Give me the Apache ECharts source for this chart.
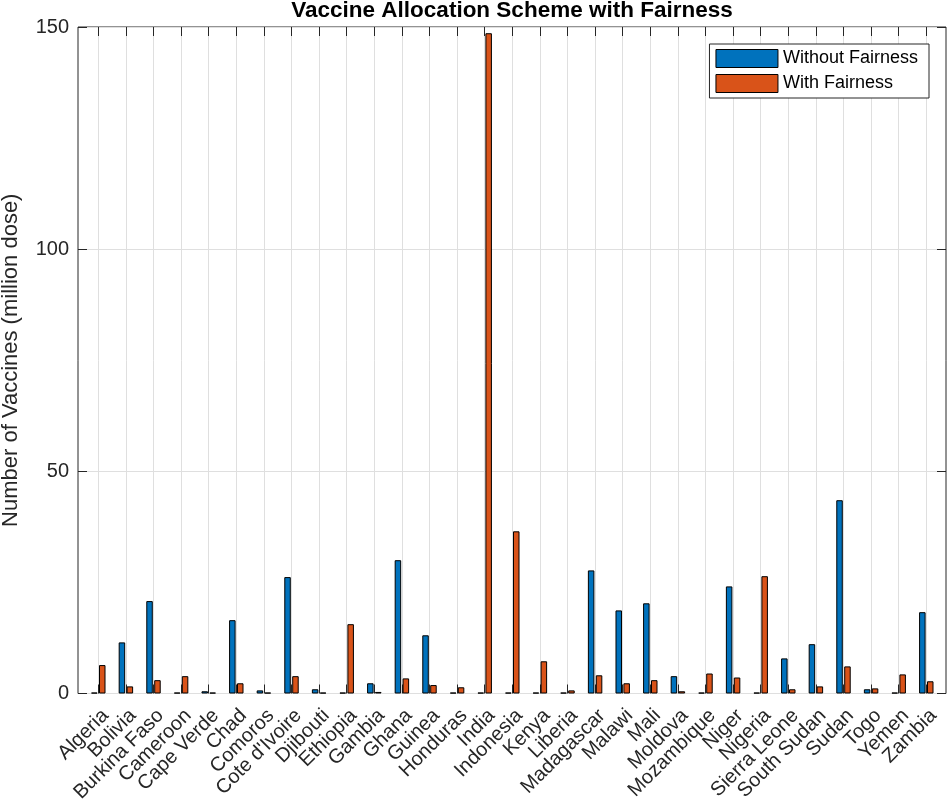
<!DOCTYPE html>
<html>
<head>
<meta charset="utf-8">
<script src="https://cdn.jsdelivr.net/npm/echarts@6/dist/echarts.min.js"></script>
<style>
html, body { margin: 0; padding: 0; background: #fff; }
#chart { width: 949px; height: 802px; }
</style>
</head>
<body>
<div id="chart"></div>
<script>
// data
var countries = ['Algeria', 'Bolivia', 'Burkina Faso', 'Cameroon', 'Cape Verde', 'Chad', 'Comoros',
	"Cote d'Ivoire", 'Djibouti', 'Ethiopia', 'Gambia', 'Ghana', 'Guinea', 'Honduras', 'India',
	'Indonesia', 'Kenya', 'Liberia', 'Madagascar', 'Malawi', 'Mali', 'Moldova', 'Mozambique',
	'Niger', 'Nigeria', 'Sierra Leone', 'South Sudan', 'Sudan', 'Togo', 'Yemen', 'Zambia'];
var withoutFairness = [0.2, 11.5, 20.8, 0.2, 0.5, 16.5, 0.7, 26.2, 0.95, 0.2, 2.3, 30.0, 13.1, 0.2, 0.2,
	0.2, 0.2, 0.2, 27.7, 18.7, 20.3, 3.9, 0.2, 24.1, 0.2, 7.9, 11.1, 43.5, 0.95, 0.2, 18.3];
var withFairness = [6.4, 1.6, 3.0, 3.9, 0.2, 2.3, 0.2, 3.9, 0.2, 15.6, 0.35, 3.4, 1.9, 1.4, 148.6,
	36.5, 7.25, 0.7, 4.1, 2.3, 3.0, 0.5, 4.5, 3.6, 26.4, 0.95, 1.6, 6.1, 1.15, 4.3, 2.75];
var yTicks = [0, 50, 100, 150];

var seriesNames = ['Without Fairness', 'With Fairness'];
var colors = ['#0072BD', '#D95319'];
var axisColor = '#262626';
var gridColor = '#dfdfdf';
var font = 'Liberation Sans';

var myChart = echarts.init(document.getElementById('chart'), null, { renderer: 'canvas' });

// 3 grids: frame, bars (band axis), grid lines / ticks (point axis through the category centres)
var option = {
	animation: false,
	backgroundColor: '#fff',
	textStyle: { fontFamily: font },
	graphic: [{
		type: 'text',
		x: 512,
		y: 11,
		style: {
			text: 'Vaccine Allocation Scheme with Fairness',
			font: 'bold 22.5px "Liberation Sans"',
			fill: '#000',
			textAlign: 'center',
			textVerticalAlign: 'middle'
		}
	}],
	legend: {
		data: seriesNames,
		orient: 'vertical',
		right: 20,
		top: 44,
		padding: [5, 11, 5, 6],
		itemWidth: 62,
		itemHeight: 18,
		itemGap: 6,
		icon: 'rect',
		backgroundColor: '#fff',
		borderColor: axisColor,
		borderWidth: 1,
		itemStyle: { borderColor: '#000', borderWidth: 1 },
		textStyle: { fontSize: 18, color: '#000', fontFamily: font }
	},
	grid: [
		{ left: 78, right: 3, top: 27, bottom: 108.5, show: true, borderColor: axisColor, borderWidth: 1, outerBoundsMode: 'none' },
		{ left: 84.5, right: 8.9, top: 27, bottom: 108.5, outerBoundsMode: 'none' },
		{ left: 98.3, right: 22.7, top: 27, bottom: 108.5, outerBoundsMode: 'none' }
	],
	xAxis: [{
		gridIndex: 0, type: 'value', min: 0, max: 1, show: false
	}, {
		// bars
		gridIndex: 1,
		type: 'category',
		data: countries,
		axisLine: { show: false },
		axisTick: { show: false },
		axisLabel: { show: false },
		splitLine: { show: false }
	}, {
		// bottom ticks, labels, vertical grid
		gridIndex: 2,
		type: 'category',
		data: countries,
		boundaryGap: false,
		position: 'bottom',
		axisLine: { show: false },
		axisTick: { show: true, inside: true, length: 9, interval: 0, lineStyle: { color: axisColor } },
		axisLabel: {
			interval: 0, rotate: 45, margin: 12, fontSize: 20, color: axisColor, fontFamily: font,
			align: 'right', verticalAlign: 'top'
		},
		splitLine: { show: true, interval: 0, lineStyle: { color: gridColor, width: 1 } }
	}, {
		// top ticks
		gridIndex: 2,
		type: 'category',
		data: countries,
		boundaryGap: false,
		position: 'top',
		axisLine: { show: false },
		axisTick: { show: true, inside: true, length: 9, interval: 0, lineStyle: { color: axisColor } },
		axisLabel: { show: false },
		splitLine: { show: false }
	}],
	yAxis: [{
		gridIndex: 0,
		type: 'value',
		position: 'left',
		min: yTicks[0],
		max: yTicks[yTicks.length - 1],
		interval: 50,
		name: 'Number of Vaccines (million dose)',
		nameLocation: 'middle',
		nameRotate: 90,
		nameGap: 56,
		nameTextStyle: { fontSize: 22, color: axisColor, fontFamily: font },
		axisLine: { show: false },
		axisTick: { show: true, inside: true, length: 9, lineStyle: { color: axisColor } },
		axisLabel: { fontSize: 20, color: axisColor, margin: 9, fontFamily: font },
		splitLine: { show: true, lineStyle: { color: gridColor, width: 1 } }
	}, {
		gridIndex: 0,
		type: 'value',
		position: 'right',
		min: yTicks[0],
		max: yTicks[yTicks.length - 1],
		interval: 50,
		axisLine: { show: false },
		axisTick: { show: true, inside: true, length: 9, lineStyle: { color: axisColor } },
		axisLabel: { show: false },
		splitLine: { show: false }
	}, {
		gridIndex: 1, type: 'value', min: yTicks[0], max: yTicks[yTicks.length - 1], show: false
	}, {
		gridIndex: 2, type: 'value', min: yTicks[0], max: yTicks[yTicks.length - 1], show: false
	}],
	series: [{
		name: seriesNames[0],
		type: 'bar',
		xAxisIndex: 1,
		yAxisIndex: 2,
		barWidth: 6.5,
		barGap: '22%',
		itemStyle: { color: colors[0], borderColor: '#000', borderWidth: 1 },
		data: withoutFairness
	}, {
		name: seriesNames[1],
		type: 'bar',
		xAxisIndex: 1,
		yAxisIndex: 2,
		barWidth: 6.5,
		barGap: '22%',
		itemStyle: { color: colors[1], borderColor: '#000', borderWidth: 1 },
		data: withFairness
	}]
};
myChart.setOption(option);
</script>
</body>
</html>
